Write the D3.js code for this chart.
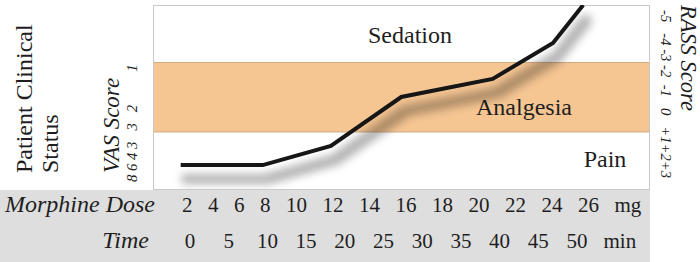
<!DOCTYPE html>
<html>
<head>
<meta charset="utf-8">
<script src="https://cdn.jsdelivr.net/npm/d3@7"></script>
<style>
  body { margin: 0; background: #fff; }
  svg { display: block; font-family: "Liberation Serif", "Times New Roman", Times, serif; }
  .pre { white-space: pre; }
</style>
</head>
<body>
<div id="chart"></div>
<script>
// ---- data ----
const timeTicks = [0, 5, 10, 15, 20, 25, 30, 35, 40, 45, 50];
const doseTicks = [2, 4, 6, 8, 10, 12, 14, 16, 18, 20, 22, 24, 26];
const vasTicks = ["8", "6", "4", "3", "3", "2", "1"];
const rassTicks = ["-5", "-4", "-3", "-2", "-1", "0", "+1", "+2", "+3"];
const zoneNames = ["Pain", "Analgesia", "Sedation"];
const zoneLimits = [0, 3.1, 6.875, 10];
// the response curve: time (min) vs clinical level (0 = pain .. 10 = deep sedation)
const curveTime = [-1.2, 9.4, 18.2, 27.3, 39.1, 46.9, 50.8];
const curveLevel = [1.3, 1.3, 2.34, 5.0, 5.98, 7.93, 10];

const W = 700, H = 262;
const box = { left: 153, right: 649, top: 5, bottom: 189 };

const svg = d3.select("#chart").append("svg")
  .attr("width", W)
  .attr("height", H);

const defs = svg.append("defs");
defs.append("clipPath").attr("id", "box-clip")
  .append("rect")
  .attr("x", box.left).attr("y", box.top)
  .attr("width", box.right - box.left).attr("height", box.bottom - box.top);

// soft drop shadow under the curve
const filter = defs.append("filter").attr("id", "shadow")
  .attr("filterUnits", "userSpaceOnUse")
  .attr("x", 100).attr("y", -20).attr("width", 620).attr("height", 240);
filter.append("feMorphology").attr("in", "SourceAlpha").attr("operator", "dilate").attr("radius", 3);
filter.append("feGaussianBlur").attr("stdDeviation", 4.5);
filter.append("feOffset").attr("dx", 4).attr("dy", 14);
filter.append("feComponentTransfer")
  .append("feFuncA").attr("type", "linear").attr("slope", 0.3);
const merge = filter.append("feMerge");
merge.append("feMergeNode");
merge.append("feMergeNode").attr("in", "SourceGraphic");

// scales
const x = d3.scaleLinear().domain([0, 50]).range([190, 577]);
const y = d3.scaleLinear().domain([0, 10]).range([box.bottom, box.top]);

// plot box
svg.append("rect")
  .attr("x", box.left + 0.5).attr("y", box.top + 0.5)
  .attr("width", box.right - box.left).attr("height", box.bottom - box.top)
  .attr("fill", "#fff");

const zones = zoneNames.map((name, i) => ({ name, lo: zoneLimits[i], hi: zoneLimits[i + 1] }));
svg.append("g").selectAll("rect")
  .data(zones.filter((d) => d.name === "Analgesia"))
  .join("rect")
  .attr("x", box.left + 0.5)
  .attr("y", (d) => y(d.hi))
  .attr("width", box.right - box.left)
  .attr("height", (d) => y(d.lo) - y(d.hi))
  .attr("fill", "#f5c592")
  .attr("stroke", "#d2aa86")
  .attr("stroke-width", 1);

svg.append("rect")
  .attr("x", box.left + 0.5).attr("y", box.top + 0.5)
  .attr("width", box.right - box.left).attr("height", box.bottom - box.top)
  .attr("fill", "none")
  .attr("stroke", "#c9c9c9");

// zone labels
const zoneLabelPos = { Sedation: [410, 43], Analgesia: [524, 115], Pain: [605, 167] };
svg.append("g").selectAll("text")
  .data(zones)
  .join("text")
  .attr("x", (d) => zoneLabelPos[d.name][0])
  .attr("y", (d) => zoneLabelPos[d.name][1])
  .attr("text-anchor", "middle")
  .attr("font-size", 24)
  .attr("fill", "#1e1e1e")
  .text((d) => d.name);

// curve with drop shadow
const curve = curveTime.map((t, i) => [t, curveLevel[i]]);
const line = d3.line().x((d) => x(d[0])).y((d) => y(d[1]));
svg.append("g").attr("clip-path", "url(#box-clip)")
  .append("path")
  .datum(curve)
  .attr("d", line)
  .attr("fill", "none")
  .attr("stroke", "#141414")
  .attr("stroke-width", 4)
  .attr("stroke-linejoin", "miter")
  .attr("filter", "url(#shadow)");

// bottom table band
const table = svg.append("g");
table.append("rect")
  .attr("x", 0).attr("y", 190)
  .attr("width", 650).attr("height", H - 190)
  .attr("fill", "#dedede");

table.append("text")
  .attr("x", 5).attr("y", 212)
  .attr("font-size", 24).attr("font-style", "italic").attr("fill", "#1e1e1e")
  .text("Morphine Dose");
table.append("text")
  .attr("x", 149).attr("y", 248)
  .attr("text-anchor", "end")
  .attr("font-size", 24).attr("font-style", "italic").attr("fill", "#1e1e1e")
  .text("Time");

// dose labels flow left to right with a fixed gap
const doseRow = table.append("g").attr("font-size", 21).attr("fill", "#1e1e1e");
let cx = 182;
const doseGap = 15.5;
doseTicks.map(String).concat(["mg"]).forEach((s) => {
  const t = doseRow.append("text").attr("x", cx).attr("y", 212).text(s);
  cx += t.node().getComputedTextLength() + doseGap;
});

// time labels follow the time scale
const timeRow = table.append("g").attr("font-size", 21).attr("fill", "#1e1e1e");
timeRow.selectAll("text.tick")
  .data(timeTicks)
  .join("text")
  .attr("class", "tick")
  .attr("x", (d) => x(d))
  .attr("y", 248)
  .attr("text-anchor", "middle")
  .text((d) => d);
timeRow.append("text")
  .attr("x", x(50) + 26.5).attr("y", 248)
  .text("min");

// left side titles (rotated)
const left = svg.append("g").attr("fill", "#1e1e1e");
left.append("text")
  .attr("transform", "translate(32,173) rotate(-90)")
  .attr("font-size", 24)
  .text("Patient Clinical");
left.append("text")
  .attr("transform", "translate(58,173) rotate(-90)")
  .attr("font-size", 24)
  .text("Status");
left.append("text")
  .attr("transform", "translate(119,173) rotate(-90)")
  .attr("font-size", 23).attr("font-style", "italic")
  .text("VAS Score");

const vasSpaces = [1, 1, 1, 3, 3, 9];
left.append("text")
  .attr("class", "pre")
  .attr("transform", "translate(137,182) rotate(-90)")
  .attr("font-size", 14.7).attr("font-style", "italic")
  .text(vasTicks.map((t, i) => (i ? " ".repeat(vasSpaces[i - 1]) : "") + t).join(""));

// right side (rotated clockwise)
const right = svg.append("g").attr("fill", "#1e1e1e");
right.append("text")
  .attr("transform", "translate(681,5) rotate(90)")
  .attr("font-size", 22.5).attr("font-style", "italic")
  .text("RASS Score");

const rassSpaces = [3, 1, 1, 2, 3, 3, 0, 0];
right.append("text")
  .attr("class", "pre")
  .attr("transform", "translate(661,10) rotate(90)")
  .attr("font-size", 14.7).attr("font-style", "italic")
  .text(rassTicks.map((t, i) => (i ? " ".repeat(rassSpaces[i - 1]) : "") + t).join(""));
</script>
</body>
</html>
